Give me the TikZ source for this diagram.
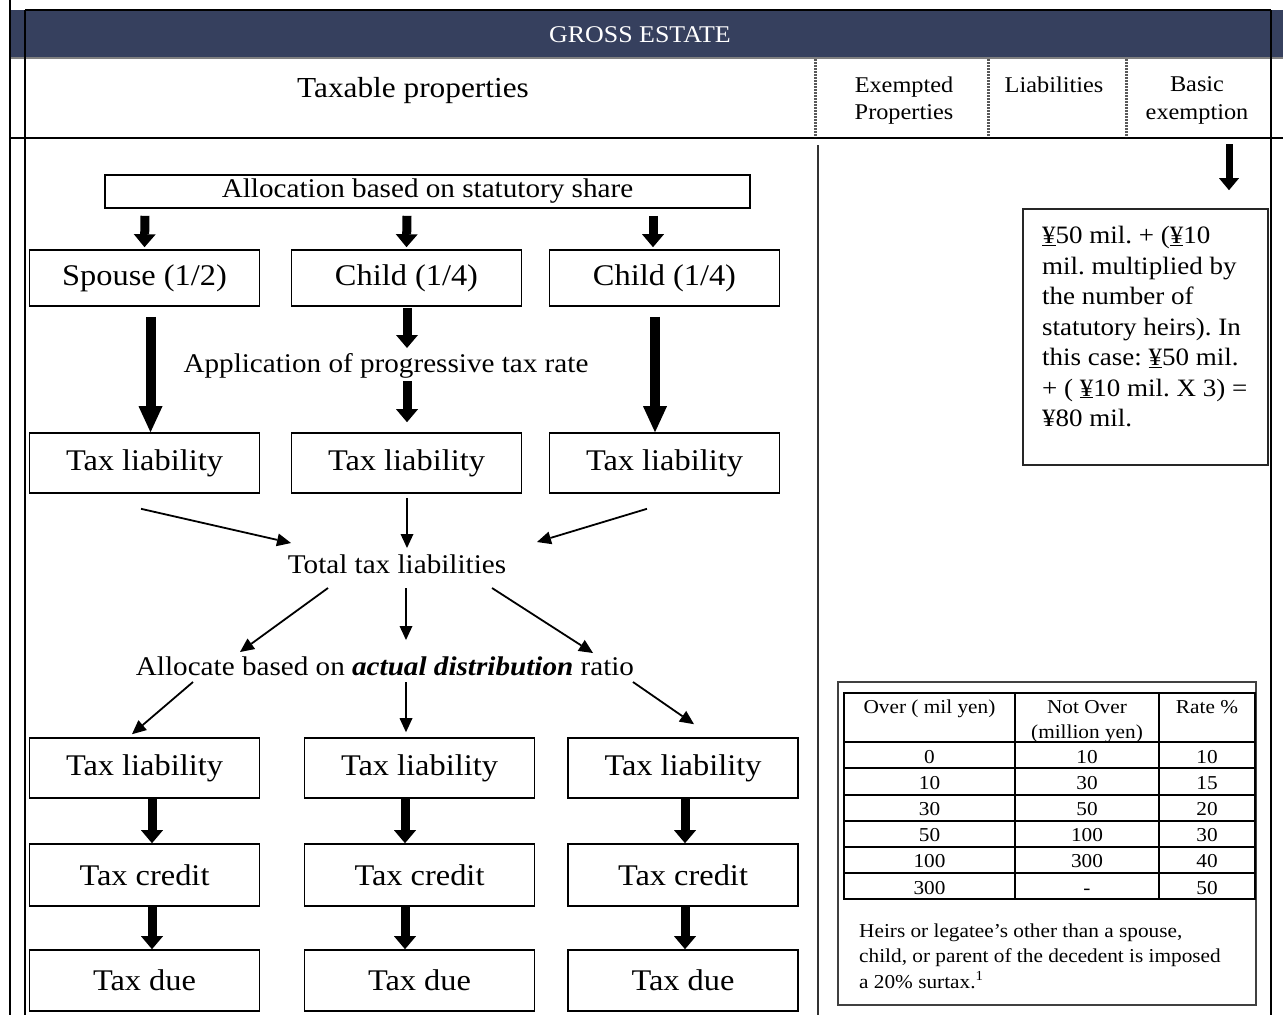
\documentclass[tikz,border=0pt]{standalone}
\usepackage{fontspec}
\setmainfont{Liberation Serif}[FakeStretch=1.08]
\usetikzlibrary{arrows.meta,positioning}
\definecolor{headnavy}{RGB}{54,64,94}
\frenchspacing

\begin{document}
\begin{tikzpicture}[x=1pt,y=-1pt]
            \tikzstyle{box} = [draw, line width=1.6pt, inner sep=0pt, minimum width=230pt, minimum height=60pt, font=\fontsize{30}{36}\selectfont]
            \tikzstyle{flowtext} = [inner sep=0pt, anchor=base, font=\fontsize{27}{32}\selectfont]
            \tikzstyle{headcell} = [inner sep=0pt, anchor=north, align=center, font=\fontsize{22.5}{27.5}\selectfont]
            \tikzstyle{tabletext} = [inner sep=0pt, anchor=base, font=\fontsize{19.7}{25.5}\selectfont]
            \tikzstyle{fat} = [line width=9pt, -{Triangle[width=22pt,length=13pt,line width=0pt]}]
            \tikzstyle{fatlong} = [line width=10pt, -{Triangle[width=24pt,length=26pt,line width=0pt]}]
            \tikzstyle{thinarrow} = [line width=1.8pt, -{Triangle[width=13pt,length=14pt,line width=0pt]}]
            \useasboundingbox (0,0) rectangle (1283,1015);
            \fill[headnavy] (10,10) rectangle (1283,58);
            \draw[black!50, line width=1.5pt] (10,58) -- (1283,58);
            \draw[line width=2pt] (10,0) -- (10,1015);
            \draw[line width=2pt] (25,10) -- (25,1015);
            \draw[line width=2pt] (25,10) -- (1271,10);
            \draw[line width=2pt] (1271,10) -- (1271,1015);
            \draw[line width=2.5pt] (10,138) -- (1283,138);
            \foreach \x in {815,988,1126}
                \draw[black!65, line width=3pt, dash pattern=on 2pt off 1pt] (\x,59) -- (\x,137);
            \draw[black!80, line width=1.5pt] (818,145) -- (818,1015);
            \node[headcell, anchor=base, white, font=\fontsize{24}{28}\selectfont] (gross) at (640,42) {GROSS ESTATE};
            \node[headcell, anchor=base, font=\fontsize{29}{34}\selectfont] (taxable) at (413,97) {Taxable properties};
            \node[headcell] (exempted) at (904,76.6) {Exempted\\Properties};
            \node[headcell] (liabilities) at (1054,76.6) {Liabilities};
            \node[headcell] (basic) at (1197,76.6) {Basic\\exemption};
            \node[box, minimum width=645pt, minimum height=33pt, font=\fontsize{27}{32}\selectfont] (alloc) at (427.5,191.5) {Allocation based on statutory share};
            \node[box, minimum height=56pt] (spouse) at (144.5,278) {Spouse (1/2)};
            \node[box, minimum height=56pt] (child1) at (406.5,278) {Child (1/4)};
            \node[box, minimum height=56pt] (child2) at (664.5,278) {Child (1/4)};
            \node[flowtext] (progressive) at (386,372) {Application of progressive tax rate};
            \node[box] (liab21) at (144.5,463) {Tax liability};
            \node[box] (liab22) at (406.5,463) {Tax liability};
            \node[box] (liab23) at (664.5,463) {Tax liability};
            \node[flowtext] (total) at (397,573) {Total tax liabilities};
            \node[flowtext] (ratio) at (385,675) {Allocate based on \textbf{\textit{actual distribution}} ratio};
            \foreach \i/\x in {1/144.5,2/419.5,3/683} {
                \node[box] (liab3\i) at (\x,768) {Tax liability};
                \node[box, minimum height=62pt] (credit\i) at (\x,875) {Tax credit};
                \node[box, minimum height=61pt] (due\i) at (\x,980.5) {Tax due};
            }
            \draw[fat] ([shift={(-282.5,7)}]alloc.south) -- ([yshift=2pt]spouse.north);
            \draw[fat] ([shift={(-20.5,7)}]alloc.south) -- ([yshift=2pt]child1.north);
            \draw[fat] ([shift={(225.5,7)}]alloc.south) -- ([shift={(-11.5,-2)}]child2.north);
            \draw[fatlong] ([shift={(6,10)}]spouse.south) -- ([xshift=6pt]liab21.north);
            \draw[fatlong] ([shift={(-9.5,10)}]child2.south) -- ([xshift=-9.5pt]liab23.north);
            \draw[fat] ([shift={(0.5,1)}]child1.south) -- ([shift={(21,-24)}]progressive.base);
            \draw[fat] ([shift={(21,9)}]progressive.base) -- ([shift={(0.5,-10)}]liab22.north);
            \draw[thinarrow] ([shift={(-3.5,15)}]liab21.south) -- ([shift={(-106,-30)}]total.base);
            \draw[thinarrow] ([shift={(0.5,4)}]liab22.south) -- ([shift={(10,-25)}]total.base);
            \draw[thinarrow] ([shift={(-17.5,15)}]liab23.south) -- ([shift={(140,-31)}]total.base);
            \draw[thinarrow] ([shift={(-69,15)}]total.base) -- ([shift={(-145,-23)}]ratio.base);
            \draw[thinarrow] ([shift={(9,15)}]total.base) -- ([shift={(21,-35)}]ratio.base);
            \draw[thinarrow] ([shift={(95,15)}]total.base) -- ([shift={(208,-22)}]ratio.base);
            \draw[thinarrow] ([shift={(-192,7)}]ratio.base) -- ([shift={(-12.5,-3)}]liab31.north);
            \draw[thinarrow] ([shift={(21,7)}]ratio.base) -- ([shift={(-13.5,-5)}]liab32.north);
            \draw[thinarrow] ([shift={(248,7)}]ratio.base) -- ([shift={(11,-13)}]liab33.north);
            \foreach \i/\dx in {1/7.5,2/-14.5,3/2} {
                \draw[fat] ([xshift=\dx pt]liab3\i.south) -- ([xshift=\dx pt]credit\i.north);
                \draw[fat] ([xshift=\dx pt]credit\i.south) -- ([xshift=\dx pt]due\i.north);
            }
            \node[draw, black!85, line width=1.6pt, minimum width=245pt, minimum height=256pt, inner sep=0pt] (basicbox) at (1145.5,337) {};
            \node[inner sep=0pt, anchor=north west, align=left, font=\fontsize{25}{30.5}\selectfont] (basictext) at (1042,226) {\underline{¥}50 mil. + (\underline{¥}10\\mil. multiplied by\\the number of\\statutory heirs). In\\this case: \underline{¥}50 mil.\\+ ( \underline{¥}10 mil. X 3) =\\¥80 mil.};
            \draw[fat, line width=7pt, -{Triangle[width=20pt,length=12pt,line width=0pt]}] ([shift={(32,20)}]basic.south) -- ([shift={(83.5,-18)}]basicbox.north);
            \node[draw, black!75, line width=1.5pt, minimum width=418pt, minimum height=323pt, inner sep=0pt] (ratebox) at (1047,843.5) {};
            \draw[line width=1.8pt] (844,693) rectangle (1255,899);
            \foreach \y in {742,768,795,821,847,873}
                \draw[line width=1.8pt] (844,\y) -- (1255,\y);
            \draw[line width=1.8pt] (1015,693) -- (1015,899);
            \draw[line width=1.8pt] (1159,693) -- (1159,899);
            \node[tabletext] (overhead) at (929.5,713) {Over ( mil yen)};
            \node[tabletext, anchor=north, align=center] (notoverhead) at (1087,700) {Not Over\\(million yen)};
            \node[tabletext] (ratehead) at (1207,713) {Rate \%};
            \foreach \over/\notover/\rate [count=\r] in {0/10/10, 10/30/15, 30/50/20, 50/100/30, 100/300/40, 300/-/50} {
                \pgfmathsetmacro\yb{763+26.2*(\r-1)}
                \node[tabletext] (over\r) at (929.5,\yb) {\over};
                \node[tabletext] (notover\r) at (1087,\yb) {\notover};
                \node[tabletext] (rate\r) at (1207,\yb) {\rate};
            }
            \node[tabletext, anchor=north west, align=left] (surtax) at (859,923.5) {Heirs or legatee’s other than a spouse,\\child, or parent of the decedent is imposed\\a 20\% surtax.\textsuperscript{1}};
        \end{tikzpicture}
\end{document}
